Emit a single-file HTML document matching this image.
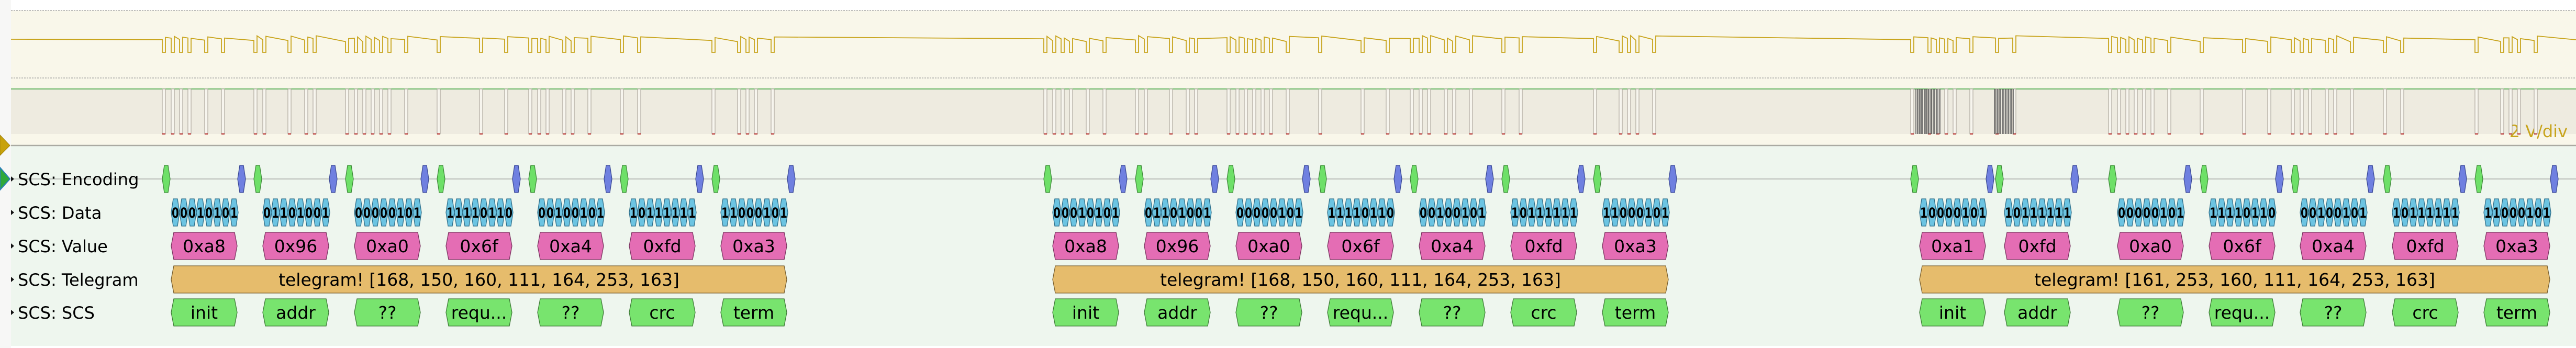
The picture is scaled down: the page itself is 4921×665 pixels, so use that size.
<!DOCTYPE html>
<html><head><meta charset="utf-8">
<style>
html,body{margin:0;padding:0;background:#fff;}
body{width:4921px;height:665px;overflow:hidden;font-family:"DejaVu Sans","Liberation Sans",sans-serif;}
svg{display:block}
</style></head>
<body>
<svg id="s" width="4921" height="665" xmlns="http://www.w3.org/2000/svg" font-family="DejaVu Sans, Liberation Sans, sans-serif">
<rect x="0" y="0" width="4921" height="665" fill="#ffffff"/>
<rect x="0" y="0" width="21" height="665" fill="#f7f7f6"/>
<rect x="21" y="20" width="4900" height="258" fill="#f9f7ea"/>
<line x1="21" y1="20" x2="4921" y2="20" stroke="#999" stroke-width="1.2" stroke-dasharray="3,2"/>
<line x1="21" y1="149" x2="4921" y2="149" stroke="#999" stroke-width="1.2" stroke-dasharray="3,2"/>
<rect x="21" y="170" width="4900" height="86" fill="#eeebe0"/>
<line x1="21" y1="170" x2="4921" y2="170" stroke="#3aa33a" stroke-width="1.5"/>
<rect x="21" y="279" width="4900" height="382" fill="#eef6ee"/>
<line x1="21" y1="278" x2="4921" y2="278" stroke="#aaaaa2" stroke-width="2.5"/>
<polygon points="0,258 19,278 0,297" fill="#c8a20c" stroke="#a08008"/>
<polygon points="0,320 19,342 0,363" fill="#2fa83a" stroke="#2a7fb8" stroke-width="2"/>
<line x1="25" y1="342" x2="4921" y2="342" stroke="#a8aca6" stroke-width="1.5"/>
<g fill="#111">
<polygon points="21,337 27,342 21,347"/>
<polygon points="21,401 27,406 21,411"/>
<polygon points="21,465 27,470 21,475"/>
<polygon points="21,529 27,534 21,539"/>
<polygon points="21,592 27,597 21,602"/>
</g>
<g font-size="32" fill="#000">
<text x="34" y="354">SCS: Encoding</text>
<text x="34" y="418">SCS: Data</text>
<text x="34" y="482">SCS: Value</text>
<text x="34" y="546">SCS: Telegram</text>
<text x="34" y="609">SCS: SCS</text>
</g>
<text x="4905" y="262" font-size="32" fill="#c8a41c" text-anchor="end">2 V/div</text>
<g id="dyn"></g>
</svg>
<script>
(function(){
var NS="http://www.w3.org/2000/svg";
var g=document.getElementById("dyn");
function el(t,a,txt){var e=document.createElementNS(NS,t);for(var k in a)e.setAttribute(k,a[k]);if(txt!=null)e.textContent=txt;g.appendChild(e);return e;}
function hex(x,y,w,h,p,fill,stroke){
 var pts=[[x+p,y],[x+w-p,y],[x+w,y+h/2],[x+w-p,y+h],[x+p,y+h],[x,y+h/2]].map(function(a){return a.join(",")}).join(" ");
 el("polygon",{points:pts,fill:fill,stroke:stroke,"stroke-width":1.3});
}
var groups=[
 {s:[327,502,677,852,1027,1202,1377],v:[0xa8,0x96,0xa0,0x6f,0xa4,0xfd,0xa3]},
 {s:[2011,2186,2361,2536,2711,2886,3061],v:[0xa8,0x96,0xa0,0x6f,0xa4,0xfd,0xa3]},
 {s:[3667,3829,4045,4220,4394,4570,4745],v:[0xa1,0xfd,0xa0,0x6f,0xa4,0xfd,0xa3]}
];
var lbl=["init","addr","??","requ...","??","crc","term"];
var W=126;
var pulses=[];
groups.forEach(function(G){
 G.s.forEach(function(x,i){
  var v=G.v[i];
  hex(x-17,316,15,52,4,"#6ee068","#3f8a3a");
  hex(x+W+1,316,15,52,4,"#6f80e0","#3c4a96");
  for(var b=0;b<8;b++){
   var bit=(v>>b)&1;
   var bx=x+b*16;
   hex(bx,380,16,52,4,"#6cc4e2","#2f6f8a");
   el("text",{x:bx+8,y:416,"font-size":27,"font-weight":"bold","text-anchor":"middle",fill:"#000",textLength:14,lengthAdjust:"spacingAndGlyphs"},String(bit));
   if(!bit)pulses.push(bx);
  }
  pulses.push(x-17);
  hex(x,444,W,52,5,"#e46db4","#7a3560");
  el("text",{x:x+W/2,y:482,"font-size":33,"text-anchor":"middle",fill:"#000"},"0x"+v.toString(16));
  hex(x,571,W,52,5,"#78e46e","#3f7a38");
  el("text",{x:x+W/2,y:609,"font-size":33,"text-anchor":"middle",fill:"#000"},lbl[i]);
 });
 var x0=G.s[0],x1=G.s[6]+W;
 hex(x0,508,x1-x0,52,5,"#e6bc6c","#7a6030");
 el("text",{x:(x0+x1)/2,y:546,"font-size":33,"text-anchor":"middle",fill:"#000"},"telegram! ["+G.v.join(", ")+"]");
});
pulses.sort(function(a,b){return a-b});
pulses.forEach(function(p){
 el("rect",{x:p,y:170,width:6,height:86,fill:"#f7f5ee",stroke:"#a09a90","stroke-width":1});
 el("line",{x1:p,y1:256,x2:p+6,y2:256,stroke:"#b02020","stroke-width":2});
});
[3660,3663,3666,3668,3671,3673,3676,3679,3681,3684,3687,3690,3693,3696,3699,3702,3706,3810,3813,3816,3819,3822,3825,3828,3831,3834,3837,3840,3843,3846].forEach(function(p){
 el("line",{x1:p,y1:170,x2:p,y2:256,stroke:"#555","stroke-width":1.5});
});
var d="M21,75";var last=21;
var seed=7;function rnd(){seed=(seed*9301+49297)%233280;return seed/233280;}
pulses.forEach(function(p){
 if(p<last)return;
 var lvl=72+rnd()*8;
 d+=" L"+p+","+lvl.toFixed(1)+" L"+p+",100 L"+(p+6)+",100 L"+(p+6)+","+(68+rnd()*6).toFixed(1);
 last=p+6;
});
d+=" L4921,76";
el("path",{d:d,fill:"none",stroke:"#c8a41c","stroke-width":1.8});
})();
</script>
</body></html>
